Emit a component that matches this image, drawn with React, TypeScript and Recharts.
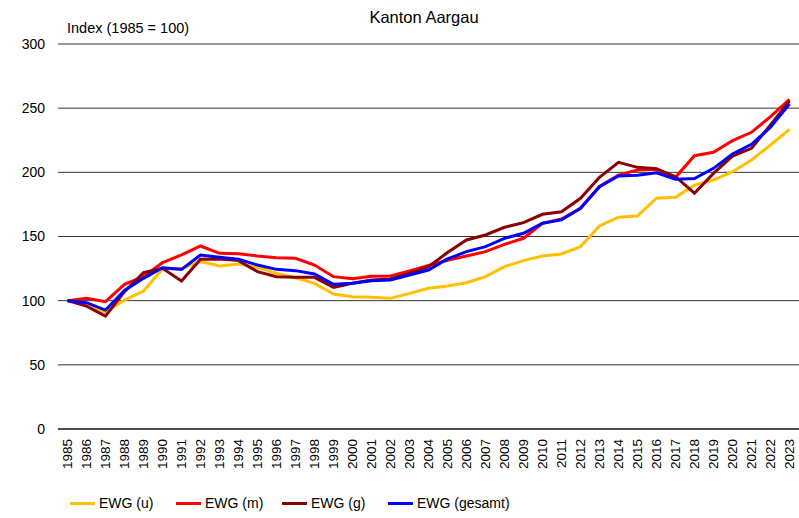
import React from 'react';
import { LineChart, Line, XAxis, YAxis, CartesianGrid } from 'recharts';

const years = ['1985','1986','1987','1988','1989','1990','1991','1992','1993','1994','1995','1996','1997','1998','1999','2000','2001','2002','2003','2004','2005','2006','2007','2008','2009','2010','2011','2012','2013','2014','2015','2016','2017','2018','2019','2020','2021','2022','2023'];

const ewgU = [100, 98, 91, 100.5, 107.5, 124.7, 125, 130.4, 127, 128.6, 126, 121.3, 117.9, 113.5, 105.2, 103.1, 102.6, 101.8, 105.7, 109.6, 111.5, 114, 118.7, 126.5, 131.2, 134.8, 136.4, 142.1, 158.2, 165, 166, 179.8, 180.5, 190, 194, 200.5, 209.6, 221.3, 233.5];
const ewgM = [100, 101.8, 99.2, 112.7, 118.7, 129.6, 135.6, 142.6, 136.9, 136.6, 134.8, 133.5, 133, 127.8, 118.7, 117.1, 119, 119.2, 123.1, 127.5, 131.5, 134.8, 138.2, 143.9, 148.6, 160.3, 163.6, 172, 189, 197.9, 201.8, 202.4, 196.1, 213, 215.6, 224.7, 231.2, 243.4, 256.9];
const ewgG = [100, 95.8, 88, 107, 121.8, 125.2, 115.3, 132.2, 132.5, 131.2, 122.6, 118.7, 118.2, 118.2, 110.4, 113.5, 116.1, 116.9, 121.3, 126.5, 137.5, 147.3, 151.2, 157.2, 160.8, 167.3, 169.3, 179.8, 196.1, 207.8, 203.9, 202.9, 196.6, 183.7, 199.2, 212.7, 218.7, 236.9, 255.6];
const ewgTotal = [100, 98.4, 92.7, 108, 117.4, 125.7, 124.4, 135.6, 133.8, 132.2, 127.8, 124.4, 123.4, 120.8, 112.7, 113.5, 115.6, 116.1, 120, 123.9, 132.5, 138.2, 142.1, 148.6, 152.5, 160.3, 162.9, 172, 188.8, 197.1, 197.7, 199.7, 194.6, 195.2, 203.1, 214.3, 221.8, 235.1, 253.2];

const yTicks = [0, 50, 100, 150, 200, 250, 300];

const series = [
  { key: 'u', name: 'EWG (u)', color: '#FFC000' },
  { key: 'm', name: 'EWG (m)', color: '#FF0000' },
  { key: 'g', name: 'EWG (g)', color: '#8B0000' },
  { key: 'total', name: 'EWG (gesamt)', color: '#0000FF' },
];

const data = years.map((y, i) => ({ year: y, u: ewgU[i], m: ewgM[i], g: ewgG[i], total: ewgTotal[i] }));

const FONT = '"Liberation Sans", Arial, sans-serif';

const XTick = (props: any) => {
  const { x, y, payload } = props;
  return (
    <text x={x} y={y} transform={`rotate(-90 ${x} ${y})`} textAnchor="end" dominantBaseline="central" fontSize={13.5} fontFamily={FONT} fill="#000">
      {payload.value}
    </text>
  );
};

export default function App() {
  return (
    <div style={{ position: 'absolute', left: 0, top: 0, width: 799, height: 518, background: '#fff', fontFamily: FONT }}>
      <LineChart width={799} height={518} data={data} margin={{ top: 44, right: 0, bottom: 0, left: 0 }}>
        <CartesianGrid vertical={false} stroke="#333" strokeWidth={1} />
        <XAxis dataKey="year" scale="band" interval={0} tick={<XTick />} tickLine={false} axisLine={{ stroke: '#000' }} height={89} tickMargin={4} />
        <YAxis domain={[0, 300]} ticks={yTicks} width={58} axisLine={false} tickLine={false} tickMargin={7} tick={{ fontSize: 14, fill: '#000', fontFamily: FONT }} />
        {series.map((s) => (
          <Line key={s.key} type="linear" dataKey={s.key} name={s.name} stroke={s.color} strokeWidth={3} dot={false} isAnimationActive={false} />
        ))}
      </LineChart>
      <div style={{ position: 'absolute', left: 0, width: 848, top: 8, textAlign: 'center', fontSize: 16.5, color: '#000' }}>Kanton Aargau</div>
      <div style={{ position: 'absolute', left: 67, top: 20, fontSize: 14.5, color: '#000' }}>Index (1985 = 100)</div>
      <div style={{ position: 'absolute', left: 70, top: 495, display: 'flex', fontSize: 14, color: '#000', whiteSpace: 'nowrap' }}>
        {series.map((s) => (
          <div key={s.key} style={{ width: 106, display: 'flex', alignItems: 'center' }}>
            <div style={{ width: 25, height: 3, background: s.color, marginRight: 4, flexShrink: 0 }} />
            <span>{s.name}</span>
          </div>
        ))}
      </div>
    </div>
  );
}
